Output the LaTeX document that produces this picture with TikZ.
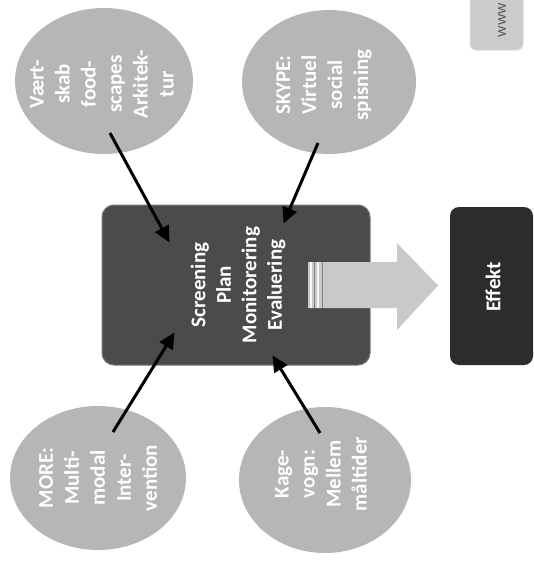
\documentclass[tikz,border=0pt]{standalone}
\usepackage{fontspec}
\setmainfont{Carlito}
\usetikzlibrary{shapes.geometric,arrows.meta,calc}
\definecolor{ellgray}{HTML}{B6B6B6}
\definecolor{boxgray}{HTML}{4B4B4B}
\definecolor{boxedge}{HTML}{777777}
\definecolor{effgray}{HTML}{2C2C2C}
\definecolor{arrgray}{HTML}{C9C9C9}
\definecolor{wwwgray}{HTML}{CBCBCB}
\tikzset{
  ell/.style={ellipse, fill=ellgray, draw=none, inner sep=0pt},
  etext/.style={rotate=90, align=center, text=white, font=\fontsize{21}{26}\selectfont\bfseries, inner sep=0pt},
  mainbox/.style={rectangle, rounded corners=12pt, fill=boxgray, draw=boxedge, line width=1pt, minimum width=268pt, minimum height=160pt},
  effbox/.style={rectangle, rounded corners=9pt, fill=effgray, draw=none, minimum width=83pt, minimum height=158pt},
  wtext/.style={rotate=90, align=center, text=white, font=\fontsize{21}{25.5}\selectfont\bfseries, inner sep=0pt},
  conn/.style={line width=3pt, black, -{Triangle[length=16pt,width=15pt]}, shorten >=0pt},
}
\begin{document}
\begin{tikzpicture}[x=1pt,y=-1pt]
\clip (0,0) rectangle (534,562);
\fill[white] (0,0) rectangle (534,562);
% www box
\node[rectangle, rounded corners=6pt, fill=wwwgray, draw=white!75!gray, line width=1pt, minimum width=53pt, minimum height=60pt] (www) at (496.5,20) {};
\node[rotate=90, text=black!65, font=\fontsize{16}{18}\selectfont, inner sep=0pt] (wwwt) at (502,20) {www};
% ellipses
\node[ell, minimum width=178pt, minimum height=146pt] (e1) at (104,81) {};
\node[etext] (t1) at (102,84) {Vært-\\skab\\food-\\scapes\\Arkitek-\\tur};
\node[ell, minimum width=174pt, minimum height=144pt] (e2) at (329,82) {};
\node[etext] (t2) at (324,85) {SKYPE:\\Virtuel\\social\\spisning};
\node[ell, minimum width=176pt, minimum height=144pt] (e3) at (98,478) {};
\node[etext] (t3) at (98,478) {MORE:\\Multi-\\modal\\Inter-\\vention};
\node[ell, minimum width=172pt, minimum height=146pt] (e4) at (325,480) {};
\node[etext] (t4) at (321,474) {Kage-\\vogn:\\Mellem\\måltider};
% central box
\node[mainbox] (box) at (236,285) {};
\node[wtext] (tb) at (238,285) {Screening\\Plan\\Monitorering\\Evaluering};
% effect box
\node[effbox] (eff) at (491.5,286) {};
\node[rotate=90, text=white, font=\fontsize{21}{25}\selectfont\bfseries, inner sep=0pt] (teff) at (493,287) {Effekt};
% block arrow
\fill[arrgray] (308,262) -- (397,262) -- (397,243) -- (438,285.5) -- (397,330) -- (397,308) -- (308,308) -- cycle;
\draw[white!92!gray, line width=2pt] (311,262) -- (311,308);
\draw[gray, line width=0.8pt] (314,262) -- (314,308);
\draw[white!92!gray, line width=2pt] (318,262) -- (318,308);
\draw[gray, line width=0.8pt] (322,262) -- (322,308);
% connectors
\draw[conn] ($(e1.center)+(6,52)$) -- ($(box.north west)+(68,38)$);
\draw[conn] ($(e2.center)+(-11,61)$) -- ($(box.north west)+(182,19)$);
\draw[conn] ($(e3.center)+(15,-46)$) -- ($(box.south west)+(73,-33)$);
\draw[conn] ($(e4.center)+(-5,-47)$) -- ($(box.south west)+(171,-10)$);
\end{tikzpicture}
\end{document}
